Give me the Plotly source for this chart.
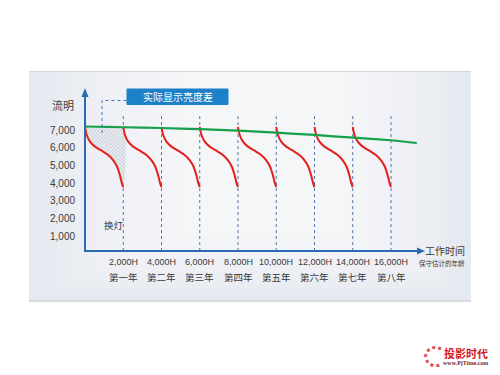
import plotly.graph_objects as go

# ---------------- data ----------------
hour_ticks = [2000, 4000, 6000, 8000, 10000, 12000, 14000, 16000]
hour_labels = ["2,000H", "4,000H", "6,000H", "8,000H", "10,000H", "12,000H", "14,000H", "16,000H"]
year_labels = ["第一年", "第二年", "第三年", "第四年", "第五年", "第六年", "第七年", "第八年"]
lumen_ticks = [1000, 2000, 3000, 4000, 5000, 6000, 7000]
lumen_labels = ["1,000", "2,000", "3,000", "4,000", "5,000", "6,000", "7,000"]

# green line: estimated brightness trend
green_hours = [0, 2000, 4000, 6000, 8000, 10000, 12000, 14000, 16000, 17350]
green_lumens = [7200, 7155, 7115, 7045, 6960, 6850, 6720, 6565, 6420, 6265]

# red lamp decay curve within one lamp cycle (offset hours, lumens)
decay_offset = [0, 90, 260, 520, 870, 1210, 1470, 1680, 1820, 1930, 2000]
decay_lumens = [7180, 6720, 6340, 6060, 5830, 5590, 5300, 4920, 4450, 3980, 3770]
cycle_starts = [0, 2000, 4000, 6000, 8000, 10000, 12000, 14000]

# ---------------- layout helpers ----------------
OFF = 8  # default body margin of the page
W, H = 500 - 2 * OFF, 375 - 2 * OFF
X0PX, PX_PER_H = 85.0 - OFF, 38.25 / 2000.0
Y0PX, PX_PER_L = 253.7 - OFF, 17.67 / 1000.0
x_range = [-X0PX / PX_PER_H, (W - X0PX) / PX_PER_H]
y_range = [-(H - Y0PX) / PX_PER_L, Y0PX / PX_PER_L]


def px(x):
    return (x - OFF) / W


def py(y):
    return 1 - (y - OFF) / H


CJK = "Noto Sans CJK SC, sans-serif"
NUM = "Liberation Sans, Arial, sans-serif"
AXIS_BLUE = "#2a6bb4"
TXT = "#3a3a3a"

fig = go.Figure()

# hatched area (brightness difference) for first cycle
hx = [green_hours[0], green_hours[1]] + [cycle_starts[0] + o for o in decay_offset[::-1]]
hy = [green_lumens[0], green_lumens[1]] + decay_lumens[::-1]
fig.add_trace(go.Scatter(
    x=hx, y=hy, mode="lines", fill="toself", line=dict(width=0, shape="spline", smoothing=0.6),
    fillcolor="rgba(255,255,255,0.5)",
    fillpattern=dict(shape="x", fgcolor="#88909c", bgcolor="rgba(236,239,244,0.9)", size=2.6, solidity=0.35),
    hoverinfo="skip", showlegend=False))

# red decay curves
for s in cycle_starts:
    fig.add_trace(go.Scatter(
        x=[s + o for o in decay_offset], y=decay_lumens, mode="lines",
        line=dict(color="#e3201c", width=2, shape="spline", smoothing=0.8),
        hoverinfo="skip", showlegend=False))

# green trend line
fig.add_trace(go.Scatter(
    x=green_hours, y=green_lumens, mode="lines",
    line=dict(color="#16a04a", width=2.2, shape="spline", smoothing=0.5),
    hoverinfo="skip", showlegend=False))

shapes = []
# panel background with a soft gradient (nested translucent rects)
shapes.append(dict(type="rect", xref="paper", yref="paper", x0=px(29), x1=px(471), y0=py(301), y1=py(71),
                   fillcolor="#e2e7ef", line=dict(width=0), layer="below"))
for i in range(12):
    shapes.append(dict(type="rect", xref="paper", yref="paper",
                       x0=px(29 + 14 * i), x1=px(471 - 11 * i), y0=py(301 - 6 * i), y1=py(71),
                       fillcolor="white", opacity=0.1, line=dict(width=0), layer="below"))
shapes.append(dict(type="line", xref="paper", yref="paper", x0=px(29), x1=px(471), y0=py(71.5), y1=py(71.5),
                   line=dict(color="#d3d6db", width=1.2), layer="below"))
shapes.append(dict(type="line", xref="paper", yref="paper", x0=px(29), x1=px(471), y0=py(301), y1=py(301),
                   line=dict(color="#cdd1d8", width=1.5), layer="below"))

# dashed vertical lines at lamp changes
for h in hour_ticks:
    shapes.append(dict(type="line", xref="x", yref="y", x0=h, x1=h, y0=150, y1=7790,
                       line=dict(color="#4f74ad", width=1, dash="dot"), layer="below"))

# axes
shapes.append(dict(type="line", xref="paper", yref="paper", x0=px(85), x1=px(85), y0=py(251), y1=py(95),
                   line=dict(color=AXIS_BLUE, width=2)))
shapes.append(dict(type="path", xref="paper", yref="paper",
                   path=f"M {px(81.5)} {py(97)} L {px(85)} {py(88)} L {px(88.5)} {py(97)} Z",
                   fillcolor=AXIS_BLUE, line=dict(width=0)))
shapes.append(dict(type="line", xref="paper", yref="paper", x0=px(84), x1=px(418), y0=py(251), y1=py(251),
                   line=dict(color=AXIS_BLUE, width=2)))
shapes.append(dict(type="path", xref="paper", yref="paper",
                   path=f"M {px(417)} {py(247.5)} L {px(425)} {py(251)} L {px(417)} {py(254.5)} Z",
                   fillcolor=AXIS_BLUE, line=dict(width=0)))

# leader line to label box
shapes.append(dict(type="path", xref="paper", yref="paper",
                   path=f"M {px(102)} {py(133)} L {px(102)} {py(100.5)} L {px(127)} {py(100.5)}",
                   line=dict(color="#3d7cc2", width=1, dash="dot")))
# label box
shapes.append(dict(type="rect", xref="paper", yref="paper", x0=px(127), x1=px(228), y0=py(104.5), y1=py(89),
                   fillcolor="#1d81c9", line=dict(color="#1d81c9", width=1)))

# logo crescent
shapes.append(dict(type="path", xref="paper", yref="paper",
                   path=f"M {px(441)} {py(349)} C {px(432)} {py(344)}, {px(424)} {py(352)}, {px(426)} {py(358)} "
                        f"C {px(427)} {py(365)}, {px(436)} {py(368)}, {px(442)} {py(364)}",
                   line=dict(color="#e0505a", width=3, dash="dot")))


def ann(x, y, text, size, color=TXT, family=CJK, xref="paper", yref="paper", xanchor="center"):
    return dict(x=x, y=y, xref=xref, yref=yref, text=text, showarrow=False,
                xanchor=xanchor, yanchor="middle", font=dict(family=family, size=size, color=color))


annotations = []
for v, t in zip(lumen_ticks, lumen_labels):
    annotations.append(ann(px(77), v, t, 10, family=NUM, yref="y", xanchor="right"))
for h, t, yl in zip(hour_ticks, hour_labels, year_labels):
    annotations.append(ann(h, py(262), t, 9, family=NUM, xref="x"))
    annotations.append(ann(h, py(277), yl, 9.5, xref="x"))

annotations += [
    ann(px(63), py(105), "流明", 11),
    ann(px(114), py(225), "换灯", 9.5),
    ann(px(445), py(250.5), "工作时间", 10),
    ann(px(441.5), py(263), "保守估计的年龄", 6.5),
    ann(px(177.5), py(96.5), "实际显示亮度差", 10, color="white"),
    ann(px(466), py(353), "<b>投影时代</b>", 11, color="#d4161c"),
    ann(px(465), py(363), "<b>www.PjTime.com</b>", 6, color="#7a1a1a", family="Liberation Serif, serif"),
]

fig.update_layout(
    width=W, height=H, margin=dict(l=0, r=0, t=0, b=0),
    paper_bgcolor="white", plot_bgcolor="rgba(0,0,0,0)",
    xaxis=dict(range=x_range, visible=False, fixedrange=True),
    yaxis=dict(range=y_range, visible=False, fixedrange=True),
    shapes=shapes, annotations=annotations, showlegend=False,
)

fig.write_html("out.html")
